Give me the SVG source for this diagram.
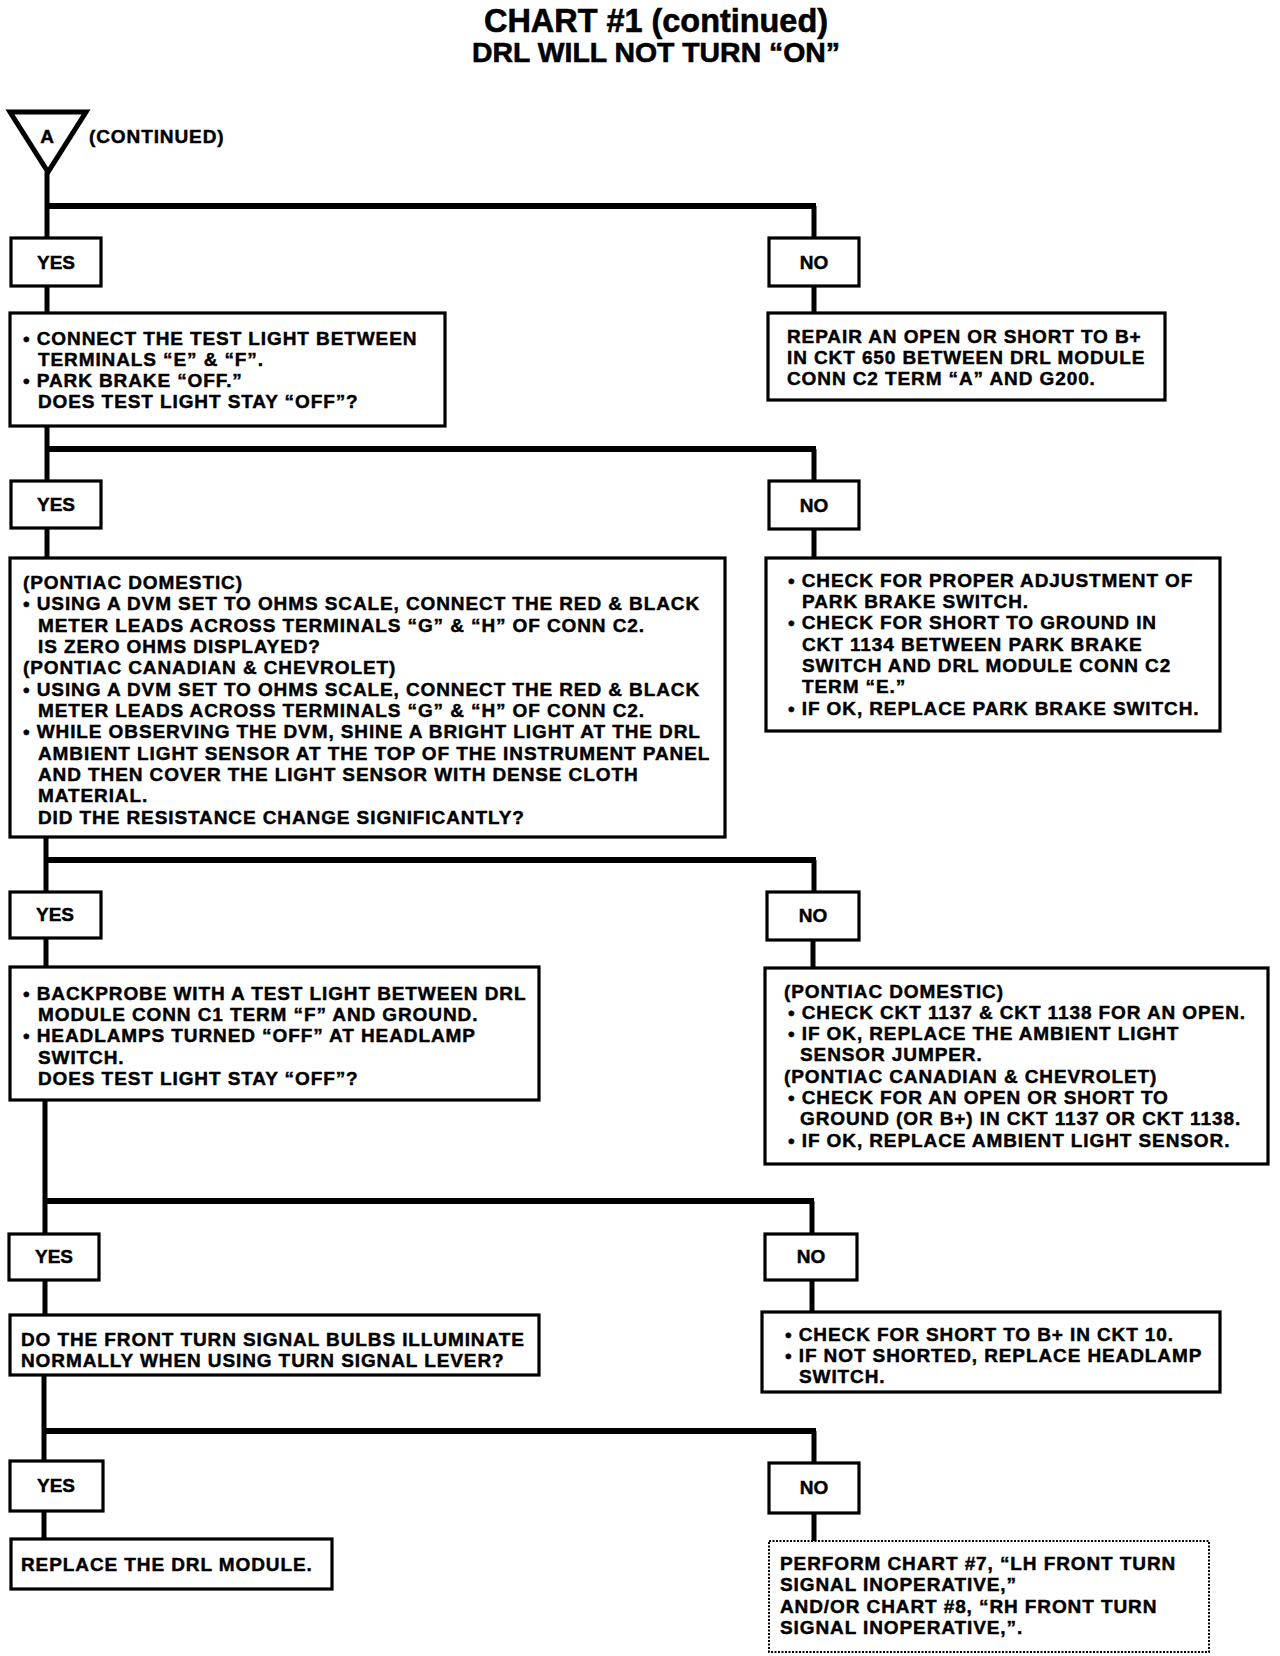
<svg xmlns="http://www.w3.org/2000/svg" width="1280" height="1656" viewBox="0 0 1280 1656">
<style>
.t{font-family:"Liberation Sans",Arial,sans-serif;font-weight:bold;font-size:19px;letter-spacing:0.9px;fill:#000;stroke:#000;stroke-width:0.45px}
.lbl{font-family:"Liberation Sans",Arial,sans-serif;font-weight:bold;font-size:19px;fill:#000;stroke:#000;stroke-width:0.45px;text-anchor:middle}
.ttl{font-family:"Liberation Sans",Arial,sans-serif;font-weight:bold;fill:#000;stroke:#000;stroke-width:0.6px;text-anchor:middle}
.box{fill:#fff;stroke:#000;stroke-width:3.2}
.dot{fill:#fff;stroke:#000;stroke-width:2;stroke-dasharray:2 1.5}
.c{fill:none;stroke:#000;stroke-width:5}
.h{fill:none;stroke:#000;stroke-width:6}
</style>
<rect width="1280" height="1656" fill="#fff"/>
<g id="title">
<text class="ttl" x="656" y="32" font-size="33" textLength="344" lengthAdjust="spacingAndGlyphs">CHART #1 (continued)</text>
<text class="ttl" x="656" y="62" font-size="28.5" textLength="368" lengthAdjust="spacingAndGlyphs">DRL WILL NOT TURN “ON”</text>
</g>
<g id="connectors">
<path class="c" d="M47 172 V239"/>
<path class="h" d="M45 206 H816"/>
<path class="c" d="M814 206 V239"/>
<path class="c" d="M47 286 V313"/>
<path class="c" d="M814 286 V313"/>
<path class="c" d="M47 426 V481"/>
<path class="h" d="M45 449 H816"/>
<path class="c" d="M814 449 V481"/>
<path class="c" d="M47 528 V558"/>
<path class="c" d="M814 529 V558"/>
<path class="c" d="M46 837 V892"/>
<path class="h" d="M44 860 H816"/>
<path class="c" d="M814 860 V892"/>
<path class="c" d="M46 938 V967"/>
<path class="c" d="M813 940 V968"/>
<path class="c" d="M45 1100 V1234"/>
<path class="h" d="M43 1201 H814"/>
<path class="c" d="M812 1201 V1234"/>
<path class="c" d="M45 1280 V1315"/>
<path class="c" d="M812 1280 V1312"/>
<path class="c" d="M44 1375 V1461"/>
<path class="h" d="M42 1431 H816"/>
<path class="c" d="M814 1431 V1463"/>
<path class="c" d="M44 1511 V1539"/>
<path class="c" d="M814 1513 V1541"/>
</g>
<g id="start">
<polygon points="10,112 86,112 48,172" fill="#fff" stroke="#000" stroke-width="5" stroke-linejoin="miter"/>
<text class="lbl" x="47" y="143" font-size="18">A</text>
<text class="t" x="89" y="143" letter-spacing="0.3">(CONTINUED)</text>
</g>
<g id="yes1"><rect class="box" x="11" y="238" width="90" height="48"/><text class="lbl" x="56" y="269">YES</text></g>
<g id="no1"><rect class="box" x="769" y="238" width="90" height="48"/><text class="lbl" x="814" y="269">NO</text></g>
<g id="q1">
<rect class="box" x="10" y="313" width="435" height="113"/>
<text class="t"><tspan x="23" y="345">• CONNECT THE TEST LIGHT BETWEEN</tspan><tspan x="38" y="366">TERMINALS “E” &amp; “F”.</tspan><tspan x="23" y="387">• PARK BRAKE “OFF.”</tspan><tspan x="38" y="408">DOES TEST LIGHT STAY “OFF”?</tspan></text>
</g>
<g id="r1">
<rect class="box" x="768" y="313" width="397" height="87"/>
<text class="t"><tspan x="787" y="343">REPAIR AN OPEN OR SHORT TO B+</tspan><tspan x="787" y="364">IN CKT 650 BETWEEN DRL MODULE</tspan><tspan x="787" y="385">CONN C2 TERM “A” AND G200.</tspan></text>
</g>
<g id="yes2"><rect class="box" x="11" y="481" width="90" height="47"/><text class="lbl" x="56" y="511">YES</text></g>
<g id="no2"><rect class="box" x="769" y="481" width="90" height="48"/><text class="lbl" x="814" y="512">NO</text></g>
<g id="q2">
<rect class="box" x="10" y="558" width="715" height="279"/>
<text class="t"><tspan x="23" y="589">(PONTIAC DOMESTIC)</tspan><tspan x="23" y="610">• USING A DVM SET TO OHMS SCALE, CONNECT THE RED &amp; BLACK</tspan><tspan x="38" y="632">METER LEADS ACROSS TERMINALS “G” &amp; “H” OF CONN C2.</tspan><tspan x="38" y="653">IS ZERO OHMS DISPLAYED?</tspan><tspan x="23" y="674">(PONTIAC CANADIAN &amp; CHEVROLET)</tspan><tspan x="23" y="696">• USING A DVM SET TO OHMS SCALE, CONNECT THE RED &amp; BLACK</tspan><tspan x="38" y="717">METER LEADS ACROSS TERMINALS “G” &amp; “H” OF CONN C2.</tspan><tspan x="23" y="738">• WHILE OBSERVING THE DVM, SHINE A BRIGHT LIGHT AT THE DRL</tspan><tspan x="38" y="760">AMBIENT LIGHT SENSOR AT THE TOP OF THE INSTRUMENT PANEL</tspan><tspan x="38" y="781">AND THEN COVER THE LIGHT SENSOR WITH DENSE CLOTH</tspan><tspan x="38" y="802">MATERIAL.</tspan><tspan x="38" y="824">DID THE RESISTANCE CHANGE SIGNIFICANTLY?</tspan></text>
</g>
<g id="r2">
<rect class="box" x="766" y="558" width="454" height="173"/>
<text class="t"><tspan x="788" y="587">• CHECK FOR PROPER ADJUSTMENT OF</tspan><tspan x="802" y="608">PARK BRAKE SWITCH.</tspan><tspan x="788" y="629">• CHECK FOR SHORT TO GROUND IN</tspan><tspan x="802" y="651">CKT 1134 BETWEEN PARK BRAKE</tspan><tspan x="802" y="672">SWITCH AND DRL MODULE CONN C2</tspan><tspan x="802" y="693">TERM “E.”</tspan><tspan x="788" y="715">• IF OK, REPLACE PARK BRAKE SWITCH.</tspan></text>
</g>
<g id="yes3"><rect class="box" x="10" y="892" width="91" height="46"/><text class="lbl" x="55" y="921">YES</text></g>
<g id="no3"><rect class="box" x="767" y="892" width="92" height="48"/><text class="lbl" x="813" y="922">NO</text></g>
<g id="q3">
<rect class="box" x="10" y="967" width="529" height="133"/>
<text class="t"><tspan x="23" y="1000">• BACKPROBE WITH A TEST LIGHT BETWEEN DRL</tspan><tspan x="38" y="1021">MODULE CONN C1 TERM “F” AND GROUND.</tspan><tspan x="23" y="1042">• HEADLAMPS TURNED “OFF” AT HEADLAMP</tspan><tspan x="38" y="1064">SWITCH.</tspan><tspan x="38" y="1085">DOES TEST LIGHT STAY “OFF”?</tspan></text>
</g>
<g id="r3">
<rect class="box" x="765" y="968" width="503" height="196"/>
<text class="t"><tspan x="784" y="998">(PONTIAC DOMESTIC)</tspan><tspan x="788" y="1019">• CHECK CKT 1137 &amp; CKT 1138 FOR AN OPEN.</tspan><tspan x="788" y="1040">• IF OK, REPLACE THE AMBIENT LIGHT</tspan><tspan x="800" y="1061">SENSOR JUMPER.</tspan><tspan x="784" y="1083">(PONTIAC CANADIAN &amp; CHEVROLET)</tspan><tspan x="788" y="1104">• CHECK FOR AN OPEN OR SHORT TO</tspan><tspan x="800" y="1125">GROUND (OR B+) IN CKT 1137 OR CKT 1138.</tspan><tspan x="788" y="1147">• IF OK, REPLACE AMBIENT LIGHT SENSOR.</tspan></text>
</g>
<g id="yes4"><rect class="box" x="9" y="1234" width="90" height="46"/><text class="lbl" x="54" y="1263">YES</text></g>
<g id="no4"><rect class="box" x="765" y="1234" width="92" height="46"/><text class="lbl" x="811" y="1263">NO</text></g>
<g id="q4">
<rect class="box" x="10" y="1315" width="529" height="60"/>
<text class="t" letter-spacing="0.6"><tspan x="21" y="1346">DO THE FRONT TURN SIGNAL BULBS ILLUMINATE</tspan><tspan x="21" y="1367">NORMALLY WHEN USING TURN SIGNAL LEVER?</tspan></text>
</g>
<g id="r4">
<rect class="box" x="762" y="1312" width="458" height="80"/>
<text class="t" letter-spacing="0.6"><tspan x="785" y="1341">• CHECK FOR SHORT TO B+ IN CKT 10.</tspan><tspan x="785" y="1362">• IF NOT SHORTED, REPLACE HEADLAMP</tspan><tspan x="799" y="1383">SWITCH.</tspan></text>
</g>
<g id="yes5"><rect class="box" x="10" y="1461" width="93" height="50"/><text class="lbl" x="56" y="1492">YES</text></g>
<g id="no5"><rect class="box" x="769" y="1463" width="90" height="50"/><text class="lbl" x="814" y="1494">NO</text></g>
<g id="q5">
<rect class="box" x="11" y="1539" width="321" height="50"/>
<text class="t" letter-spacing="0.6"><tspan x="21" y="1571">REPLACE THE DRL MODULE.</tspan></text>
</g>
<g id="r5">
<rect class="dot" x="769" y="1541" width="440" height="111"/>
<text class="t" letter-spacing="0.5"><tspan x="780" y="1570">PERFORM CHART #7, “LH FRONT TURN</tspan><tspan x="780" y="1591">SIGNAL INOPERATIVE,”</tspan><tspan x="780" y="1613">AND/OR CHART #8, “RH FRONT TURN</tspan><tspan x="780" y="1634">SIGNAL INOPERATIVE,”.</tspan></text>
</g>
</svg>
